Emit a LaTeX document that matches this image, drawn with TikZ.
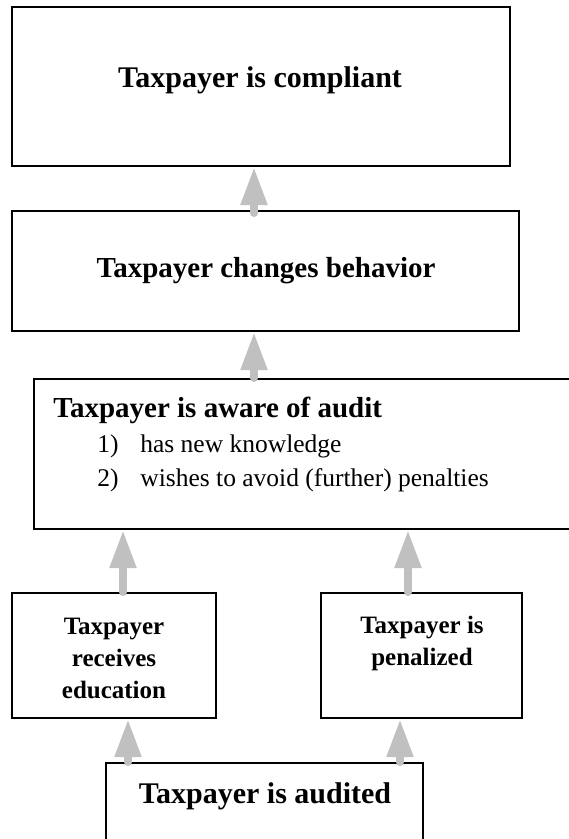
\documentclass[tikz,border=0pt]{standalone}
\usepackage{fontspec}
\setmainfont{Liberation Serif}
\usetikzlibrary{arrows.meta}

\tikzset{every picture/.style={line width=0.75pt}}
\tikzset{
	box/.style={draw, line width=2pt, inner sep=0pt},
	flow/.style={draw={rgb, 255:red, 192; green, 192; blue, 192}, line width=8pt, line cap=round,
		-{Triangle[length=38pt,width=25pt]}},
	txt/.style={inner sep=0pt, anchor=base}}

\begin{document}
\begin{tikzpicture}[x=1pt,y=1pt,yscale=-1,xscale=1]
	\useasboundingbox (0,0) rectangle (569,839);
	\clip (0,0) rectangle (569,839);
	
	%Boxes
	\node [box, minimum width=498pt, minimum height=159pt] (compl) at (261,86.5) {};
	\node [box, minimum width=507pt, minimum height=120pt] (behav) at (265.5,271) {};
	\node [box, minimum width=566pt, minimum height=150pt] (aware) at (317,454) {};
	\node [box, minimum width=204pt, minimum height=125pt] (educ) at (114,655.5) {};
	\node [box, minimum width=201pt, minimum height=125pt] (penal) at (421.5,655.5) {};
	\node [box, minimum width=317pt, minimum height=100pt] (audit) at (264.5,813) {};
	
	%Arrow columns
	\coordinate (c1) at (254,0);
	\coordinate (c2) at (123,0);
	\coordinate (c3) at (408,0);
	\coordinate (c4) at (128,0);
	\coordinate (c5) at (400,0);
	
	%Arrows
	\draw [flow, shorten <=-3pt] (behav.north -| c1) -- (compl.south -| c1);
	\draw [flow] (aware.north -| c1) -- (behav.south -| c1);
	\draw [flow] (educ.north -| c2) -- (aware.south -| c2);
	\draw [flow] (penal.north -| c3) -- (aware.south -| c3);
	\draw [flow] (audit.north -| c4) -- (educ.south -| c4);
	\draw [flow] (audit.north -| c5) -- (penal.south -| c5);
	
	% Text Node
	\node [txt] (t1) at (260,87) {\fontsize{30}{36}\selectfont\bfseries Taxpayer is compliant};
	% Text Node
	\node [txt] (t2) at (266,277) {\fontsize{29}{35}\selectfont\bfseries Taxpayer changes behavior};
	% Text Node
	\node [txt, anchor=base west] (t3) at (53,417) {\fontsize{29}{35}\selectfont\bfseries Taxpayer is aware of audit};
	% Text Node
	\node [txt, anchor=base west] (n1) at (97,452) {\fontsize{25.5}{30}\selectfont 1)};
	\node [txt, anchor=base west] (i1) at (140,452) {\fontsize{25.5}{30}\selectfont has new knowledge};
	\node [txt, anchor=base west] (n2) at (97,486) {\fontsize{25.5}{30}\selectfont 2)};
	\node [txt, anchor=base west] (i2) at (140,486) {\fontsize{25.5}{30}\selectfont wishes to avoid (further) penalties};
	% Text Node
	\node [txt, align=center, font=\fontsize{25}{32}\selectfont\bfseries] (t4) at (114,698) {Taxpayer\\receives\\education};
	% Text Node
	\node [txt, align=center, font=\fontsize{25}{32}\selectfont\bfseries] (t5) at (422,665) {Taxpayer is\\penalized};
	% Text Node
	\node [txt] (t6) at (265,803) {\fontsize{30}{36}\selectfont\bfseries Taxpayer is audited};
	
\end{tikzpicture}
\end{document}
